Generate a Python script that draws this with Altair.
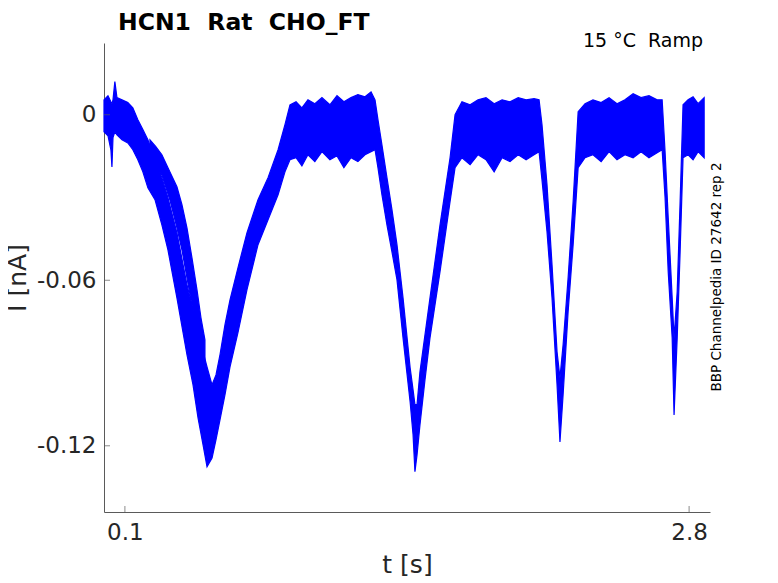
import altair as alt
import pandas as pd

# Envelope of the overlaid current sweeps (time in s, current in nA)
t_main = [0.000, 0.019, 0.033, 0.038, 0.043, 0.052, 0.062, 0.086, 0.114, 0.138,
          0.162, 0.186, 0.210, 0.244, 0.277, 0.306, 0.349, 0.397, 0.426, 0.450,
          0.474, 0.493, 0.517, 0.536, 0.555, 0.579, 0.603, 0.641, 0.684, 0.737,
          0.785, 0.833, 0.866, 0.890, 0.919, 0.947, 0.976, 1.009, 1.043, 1.081,
          1.115, 1.148, 1.182, 1.215, 1.249, 1.278, 1.297, 1.311, 1.330, 1.354,
          1.378, 1.402, 1.431, 1.465, 1.479, 1.488, 1.498, 1.512, 1.536, 1.560,
          1.608, 1.656, 1.680, 1.713, 1.752, 1.790, 1.828, 1.867, 1.905, 1.943,
          1.982, 2.020, 2.058, 2.082, 2.096, 2.120, 2.144, 2.168, 2.182, 2.197,
          2.221, 2.245, 2.269, 2.302, 2.340, 2.379, 2.417, 2.455, 2.493, 2.532,
          2.570, 2.608, 2.647, 2.671, 2.685, 2.700, 2.719, 2.728, 2.743, 2.757,
          2.771, 2.795, 2.819, 2.843, 2.872]
i_upper = [0.0054, 0.0069, 0.0047, 0.0040, 0.0054, 0.0120, 0.0062, 0.0054, 0.0044, 0.0025,
           -0.0018, -0.0054, -0.0091, -0.0163, -0.0228, -0.0301, -0.0428, -0.0616, -0.0707, -0.0790,
           -0.0859, -0.0914, -0.0979, -0.0943, -0.0870, -0.0761, -0.0671, -0.0555, -0.0428, -0.0308,
           -0.0228, -0.0127, -0.0036, 0.0036, 0.0047, 0.0025, 0.0054, 0.0040, 0.0062, 0.0036,
           0.0069, 0.0047, 0.0062, 0.0073, 0.0065, 0.0083, 0.0054, -0.0018, -0.0109, -0.0228,
           -0.0344, -0.0471, -0.0664, -0.0917, -0.0997, -0.1051, -0.1051, -0.0932, -0.0798, -0.0664,
           -0.0399, -0.0156, 0.0000, 0.0047, 0.0036, 0.0054, 0.0062, 0.0040, 0.0054, 0.0047,
           0.0062, 0.0054, 0.0058, 0.0054, -0.0036, -0.0254, -0.0544, -0.0859, -0.0954, -0.0834,
           -0.0591, -0.0315, 0.0011, 0.0040, 0.0054, 0.0044, 0.0062, 0.0040, 0.0054, 0.0076,
           0.0062, 0.0069, 0.0054, 0.0054, -0.0134, -0.0373, -0.0664, -0.0809, -0.0642, -0.0315,
           0.0036, 0.0054, 0.0065, 0.0040, 0.0062]
i_lower = [-0.0062, -0.0076, -0.0127, -0.0189, -0.0083, -0.0062, -0.0073, -0.0091, -0.0102, -0.0127,
           -0.0163, -0.0207, -0.0265, -0.0308, -0.0399, -0.0490, -0.0664, -0.0870, -0.0979, -0.1099,
           -0.1197, -0.1276, -0.1244, -0.1178, -0.1106, -0.1015, -0.0914, -0.0790, -0.0635, -0.0471,
           -0.0381, -0.0290, -0.0207, -0.0163, -0.0156, -0.0185, -0.0145, -0.0170, -0.0134, -0.0163,
           -0.0149, -0.0192, -0.0156, -0.0170, -0.0145, -0.0134, -0.0127, -0.0192, -0.0290, -0.0399,
           -0.0497, -0.0598, -0.0809, -0.1041, -0.1160, -0.1294, -0.1233, -0.1124, -0.0961, -0.0809,
           -0.0569, -0.0315, -0.0192, -0.0156, -0.0181, -0.0145, -0.0163, -0.0207, -0.0156, -0.0170,
           -0.0145, -0.0163, -0.0145, -0.0134, -0.0236, -0.0424, -0.0664, -0.0979, -0.1186, -0.1015,
           -0.0714, -0.0471, -0.0192, -0.0156, -0.0145, -0.0170, -0.0134, -0.0163, -0.0145, -0.0156,
           -0.0134, -0.0156, -0.0138, -0.0127, -0.0301, -0.0569, -0.0809, -0.1088, -0.0809, -0.0497,
           -0.0156, -0.0145, -0.0163, -0.0134, -0.0156]

# Delayed sweep during the first descent
t_lag = [0.220, 0.248, 0.277, 0.315, 0.349, 0.373, 0.397, 0.421, 0.445, 0.464, 0.483]
i_lag_upper = [-0.0091, -0.0116, -0.0145, -0.0207, -0.0261, -0.0326, -0.0410, -0.0519, -0.0635, -0.0736, -0.0816]
i_lag_lower = [-0.0163, -0.0192, -0.0218, -0.0308, -0.0410, -0.0490, -0.0591, -0.0689, -0.0780, -0.0852, -0.0943]

x_ticks = [0.1, 2.8]
y_ticks = [0, -0.06, -0.12]

title_text = "HCN1\u00a0\u00a0Rat\u00a0\u00a0CHO_FT"
cond_text = "15\u00a0°C\u00a0\u00a0Ramp"
source_text = "BBP Channelpedia ID 27642 rep 2"

main = pd.DataFrame({"t": t_main, "hi": i_upper, "lo": i_lower})
lag = pd.DataFrame({"t": t_lag, "hi": i_lag_upper, "lo": i_lag_lower})
xt = pd.DataFrame({"t": x_ticks})
yt = pd.DataFrame({"v": y_ticks})

BLUE = "#0000FF"
AX = "#5a5a5a"
TXT = "#262626"
FONT = "DejaVu Sans"

xscale = alt.Scale(domain=[0, 2.9], nice=False, zero=False)
yscale = alt.Scale(domain=[-0.144, 0.026], nice=False, zero=False)

xaxis = alt.Axis(values=x_ticks, labelExpr="'' + datum.value", ticks=False, tickSize=0,
                 grid=False, domainColor=AX, labelFont=FONT, labelFontSize=23,
                 labelColor=TXT, labelPadding=9, title="t [s]", titleFont=FONT,
                 titleFontSize=25, titleFontWeight="normal", titleColor=TXT, titlePadding=8)
yaxis = alt.Axis(values=y_ticks, labelExpr="'' + datum.value", ticks=False, tickSize=0,
                 grid=False, domainColor=AX, labelFont=FONT, labelFontSize=23,
                 labelColor=TXT, labelPadding=8, title="I [nA]", titleFont=FONT,
                 titleFontSize=25, titleFontWeight="normal", titleColor=TXT, titlePadding=6)

band_main = alt.Chart(main).mark_area(color=BLUE, stroke=BLUE, strokeWidth=1.2, opacity=1).encode(
    x=alt.X("t:Q", scale=xscale, axis=xaxis),
    y=alt.Y("hi:Q", scale=yscale, axis=yaxis),
    y2="lo:Q",
)
band_lag = alt.Chart(lag).mark_area(color=BLUE, stroke=BLUE, strokeWidth=1.2, opacity=1).encode(
    x=alt.X("t:Q", scale=xscale),
    y=alt.Y("hi:Q", scale=yscale),
    y2="lo:Q",
)

xtick_marks = alt.Chart(xt).mark_tick(color=AX, thickness=1, size=6).encode(
    x=alt.X("t:Q", scale=xscale), y=alt.value(466)
)
ytick_marks = alt.Chart(yt).mark_tick(color=AX, thickness=1, size=6).encode(
    y=alt.Y("v:Q", scale=yscale), x=alt.value(3)
)

title_mark = alt.Chart(pd.DataFrame({"s": [title_text]})).mark_text(
    font=FONT, fontSize=23.5, fontWeight="bold", color="black", align="left", baseline="alphabetic"
).encode(text="s:N", x=alt.value(14), y=alt.value(-13.5))

cond = alt.Chart(pd.DataFrame({"s": [cond_text]})).mark_text(
    font=FONT, fontSize=19, color="black", align="right", baseline="alphabetic"
).encode(text="s:N", x=alt.value(599), y=alt.value(4))

src = alt.Chart(pd.DataFrame({"s": [source_text]})).mark_text(
    font=FONT, fontSize=13.5, color="black", align="center", baseline="alphabetic", angle=270
).encode(text="s:N", x=alt.value(617), y=alt.value(234))

chart = alt.layer(band_main, band_lag, xtick_marks, ytick_marks, title_mark, cond, src).properties(
    width=606,
    height=469,
    background="white",
    padding={"left": 96, "top": 35, "right": 60, "bottom": 70},
    autosize=alt.AutoSizeParams(type="none"),
).configure_view(strokeWidth=0, stroke="transparent")

chart.save("out.html", embed_options={"renderer": "svg", "actions": False})
